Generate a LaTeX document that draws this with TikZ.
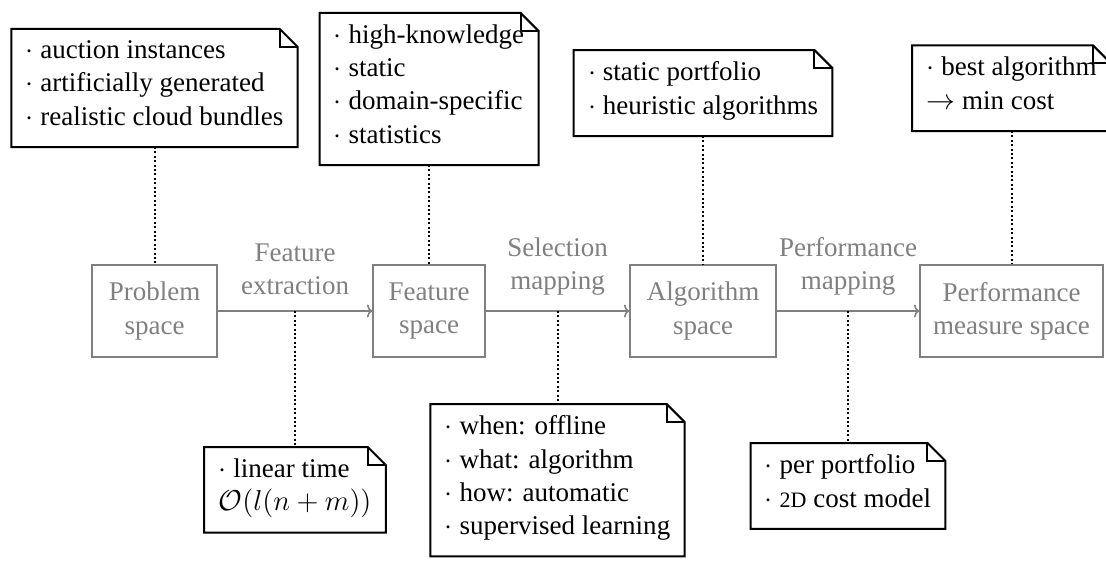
\documentclass[tikz,border=0pt]{standalone}
\usepackage{fontspec}
\setmainfont{Liberation Serif}
\usetikzlibrary{arrows.meta}
\begin{document}
\begin{tikzpicture}[x=0.5pt, y=-0.5pt,
  font=\fontsize{13.5pt}{16.6pt}\selectfont,
  spacebox/.style={draw=black!50, text=black!50, line width=0.8pt, align=center,
    inner sep=0pt, minimum height=46pt},
  flow/.style={draw=black!50, line width=0.8pt, -{To[length=2.6pt, width=6.5pt]}},
  flowlabel/.style={text=black!50, align=center, inner sep=4.5pt, above=3pt},
  notebox/.style={align=left, inner xsep=7pt, inner ysep=5.75pt,
    execute at begin node=\strut, execute at end node=\strut},
  noteline/.style={draw=black, line width=1pt},
  link/.style={draw=black, line width=1pt, dash pattern=on 1pt off 1.2pt}]
\def\fold{9pt}
% canvas
\clip (0,0) rectangle (1106,568);
\fill[white] (0,0) rectangle (1106,568);

% the four spaces
\node[spacebox, minimum width=62.5pt] (ps) at (154.5,311) {Problem\\space};
\node[spacebox, minimum width=56pt]   (fs) at (429,311)   {Feature\\space};
\node[spacebox, minimum width=73pt]   (as) at (703,311)   {Algorithm\\space};
\node[spacebox, minimum width=91.5pt] (pm) at (1011.5,311) {Performance\\measure space};

% mappings between the spaces
\draw[flow] (ps) -- node[flowlabel, midway] {Feature\\extraction} coordinate[midway] (m1) (fs);
\draw[flow] (fs) -- node[flowlabel, midway] {Selection\\mapping} coordinate[midway] (m2) (as);
\draw[flow] (as) -- node[flowlabel, midway] {Performance\\mapping} coordinate[midway] (m3) (pm);

% notes above the spaces
\node[notebox, anchor=south] (n1) at (154.5,147)
  {$\cdot$ auction instances\\$\cdot$ artificially generated\\$\cdot$ realistic cloud bundles};
\node[notebox, anchor=south] (n2) at (429,165)
  {$\cdot$ high-knowledge\\$\cdot$ static\\$\cdot$ domain-specific\\$\cdot$ statistics};
\node[notebox, anchor=south] (n3) at (703,136)
  {$\cdot$ static portfolio\\$\cdot$ heuristic algorithms};
\node[notebox, anchor=south] (n4) at (1011.5,131)
  {$\cdot$ best algorithm\\$\rightarrow$ min cost};

% notes below the mappings
\node[notebox, anchor=north] (n5) at (295,447)
  {$\cdot$ linear time\\$\mathcal{O}(l(n+m))$};
\node[notebox, anchor=north] (n6) at (557.5,404)
  {$\cdot$ when: offline\\$\cdot$ what: algorithm\\$\cdot$ how: automatic\\$\cdot$ supervised learning};
\node[notebox, anchor=north] (n7) at (848,443)
  {$\cdot$ per portfolio\\$\cdot$ {\fontsize{11pt}{11pt}\selectfont 2D} cost model};

% dog-eared outlines of the notes
\foreach \n in {n1,n2,n3,n4,n5,n6,n7}{
  \draw[noteline] (\n.north west) -- ([xshift=-\fold]\n.north east)
    -- ([yshift=-\fold]\n.north east) -- (\n.south east) -- (\n.south west) -- cycle;
  \draw[noteline] ([xshift=-\fold]\n.north east) |- ([yshift=-\fold]\n.north east);
}

% dotted links from notes to what they describe
\draw[link] (n1.south) -- (ps.north);
\draw[link] (n2.south) -- (fs.north);
\draw[link] (n3.south) -- (as.north);
\draw[link] (n4.south) -- (pm.north);
\draw[link] (m1) -- (n5.north);
\draw[link] (m2) -- (n6.north);
\draw[link] (m3) -- (n7.north);
\end{tikzpicture}
\end{document}
